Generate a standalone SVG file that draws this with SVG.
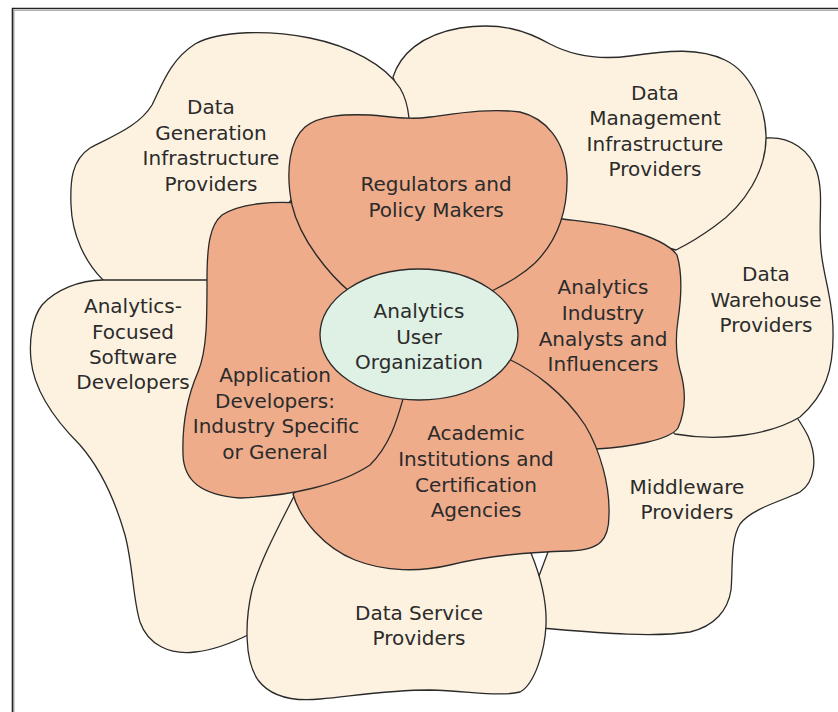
<svg xmlns="http://www.w3.org/2000/svg" width="838" height="712" viewBox="0 0 838 712">
<style>
  .outer { fill: #fdf2e0; stroke: #2a2a2a; stroke-width: 1.3; stroke-linejoin: round; }
  .inner { fill: #eeac8b; stroke: #2a2a2a; stroke-width: 1.3; stroke-linejoin: round; }
  .core { fill: #dff0e4; stroke: #2a2a2a; stroke-width: 1.3; }
  text { font-family: "DejaVu Sans", "Liberation Sans", sans-serif; font-size: 20px; fill: #2b2b2b; text-anchor: middle; }
</style>
<rect width="838" height="712" fill="#ffffff"/>
<g id="frame">
  <path d="M14,712 V10.5 H838" fill="none" stroke="#b0b0b0" stroke-width="1.2"/>
  <path d="M12.5,712 V8.5 H838" fill="none" stroke="#222" stroke-width="1.6"/>
</g>

<g id="middleware">
  <path class="outer" d="M540,628 C590,632 650,638 690,632 C715,626 728,610 731,590 C733,570 730,540 740,524 C752,508 785,500 800,492 C815,482 818,458 808,436 C804,428 800,422 796,416 L760,405 L660,415 L585,440 L560,520 L530,600 Z"/>
  <text x="687" y="493.5">Middleware</text>
  <text x="687" y="519">Providers</text>
</g>

<g id="data-warehouse">
  <path class="outer" d="M766,138 C790,136 810,150 817,172 C824,195 818,220 821,250 C823,275 833,300 833,330 C834,370 825,395 800,417 C770,435 720,442 675,434 L660,420 L660,262 L700,200 L750,145 Z"/>
  <text x="766" y="281">Data</text>
  <text x="766" y="306.5">Warehouse</text>
  <text x="766" y="332">Providers</text>
</g>

<g id="data-management">
  <path class="outer" d="M393,77 C400,55 420,35 460,28 C500,22 525,30 550,44 C575,57 600,60 630,56 C670,50 700,48 725,60 C750,72 765,105 766,135 C767,170 745,205 715,226 C700,237 688,244 676,250 L640,240 L550,230 L520,150 L410,125 Z"/>
  <text x="655" y="99.5">Data</text>
  <text x="655" y="125">Management</text>
  <text x="655" y="150.5">Infrastructure</text>
  <text x="655" y="176">Providers</text>
</g>

<g id="data-generation">
  <path class="outer" d="M103,280 C85,262 72,235 71,205 C70,180 72,160 90,148 C115,135 140,125 152,105 C162,85 170,60 195,44 C220,30 270,30 310,38 C350,46 385,65 400,88 C406,98 408,108 409,118 L330,150 L260,240 L230,320 L150,300 Z"/>
  <text x="211" y="114">Data</text>
  <text x="211" y="139.5">Generation</text>
  <text x="211" y="165">Infrastructure</text>
  <text x="211" y="190.5">Providers</text>
</g>

<g id="analytics-focused">
  <path class="outer" d="M215,280 L103,280 C80,280 55,290 42,305 C32,318 29,340 31,360 C34,390 55,420 80,445 C100,468 115,500 125,535 C133,565 133,600 140,622 C148,645 170,655 195,652 C215,650 232,643 250,634 L258,596 L268,565 L280,540 L295,510 L300,495 L280,470 Z"/>
  <text x="133" y="313">Analytics-</text>
  <text x="133" y="338.5">Focused</text>
  <text x="133" y="364">Software</text>
  <text x="133" y="389">Developers</text>
</g>

<g id="data-service">
  <path class="outer" d="M298,488 C285,515 262,555 252,590 C245,620 244,660 258,680 C270,696 290,702 320,699 C360,695 390,690 430,690 C470,691 500,697 520,692 C535,684 545,650 546,625 C547,600 540,575 531,553 L500,530 L320,505 Z"/>
  <text x="419" y="620">Data Service</text>
  <text x="419" y="645">Providers</text>
</g>

<g id="industry-analysts">
  <path class="inner" d="M555,218 C575,221 600,222 625,229 C650,236 670,245 677,255 C683,275 681,300 678,320 C675,340 676,355 680,370 C686,390 686,410 678,428 C670,440 630,447 596,449 L560,410 L470,340 L500,262 Z"/>
  <text x="603" y="294">Analytics</text>
  <text x="603" y="320">Industry</text>
  <text x="603" y="345.5">Analysts and</text>
  <text x="603" y="371">Influencers</text>
</g>

<g id="academic">
  <path class="inner" d="M500,355 C535,370 565,395 585,425 C600,450 610,485 609,515 C609,540 600,550 570,551 C530,552 490,555 450,565 C420,572 385,572 355,560 C325,548 300,520 293,494 L320,470 L380,420 L410,385 Z"/>
  <text x="476" y="440">Academic</text>
  <text x="476" y="466">Institutions and</text>
  <text x="476" y="491.5">Certification</text>
  <text x="476" y="517">Agencies</text>
</g>

<g id="application-developers">
  <path class="inner" d="M300,203 C275,201 240,203 222,215 C210,225 207,245 207,280 C207,320 207,350 198,372 C188,395 182,425 183,455 C184,480 200,495 240,498 C290,496 340,485 370,465 C390,445 397,420 403,399 L400,320 L340,240 Z"/>
  <text x="275" y="382">Application</text>
  <text x="275" y="407.5">Developers:</text>
  <text x="276" y="433">Industry Specific</text>
  <text x="275" y="458.5">or General</text>
</g>

<g id="regulators">
  <path class="inner" d="M350,292 C330,275 300,240 292,205 C285,170 290,140 305,127 C320,115 345,114 370,115 C395,117 410,120 430,117 C460,113 490,108 520,112 C545,118 565,140 567,175 C568,210 558,240 535,263 C520,277 505,284 490,292 L419,320 Z"/>
  <text x="436" y="191">Regulators and</text>
  <text x="436" y="216.5">Policy Makers</text>
</g>

<g id="user-organization">
  <ellipse class="core" cx="419" cy="334.5" rx="99" ry="65.5"/>
  <text x="419" y="318">Analytics</text>
  <text x="419" y="343.5">User</text>
  <text x="419" y="369">Organization</text>
</g>
</svg>
